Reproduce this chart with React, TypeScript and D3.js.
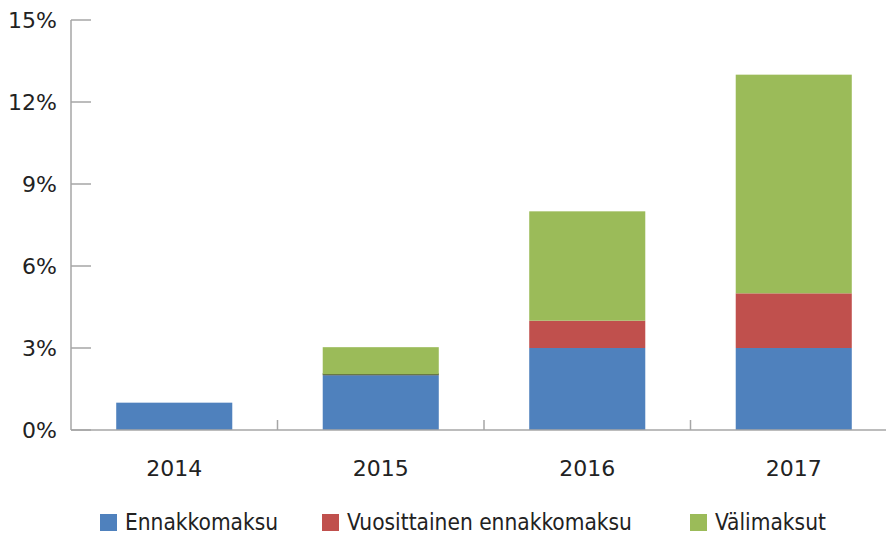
import React from "react";
import * as d3 from "d3";

const years = ["2014", "2015", "2016", "2017"];
const ennakkomaksu = [1, 2, 3, 3];
const vuosittainen = [0, 0.03, 1, 2];
const valimaksut = [0, 1, 4, 8];
const seriesNames = ["Ennakkomaksu", "Vuosittainen ennakkomaksu", "Välimaksut"];
const colors = ["#4F81BD", "#C0504D", "#9BBB59"];
const yTicks = [0, 3, 6, 9, 12, 15];

export default function App() {
  const W = 886, H = 535;
  const x0 = 71, plotTop = 20, plotBottom = 430;
  const x = d3.scaleBand<string>().domain(years).range([x0, x0 + 4 * 206.5]).paddingInner(0).paddingOuter(0);
  const y = d3.scaleLinear().domain([0, 15]).range([plotBottom, plotTop]);
  const table = years.map((yr, i) => ({ year: yr, s0: ennakkomaksu[i], s1: vuosittainen[i], s2: valimaksut[i] }));
  const stacked = d3.stack<any>().keys(["s0", "s1", "s2"])(table);
  const barW = x.bandwidth() * 0.562;
  const font = "'DejaVu Sans', sans-serif";
  const legendX = [100, 322, 690];
  return (
    <svg width={W} height={H} style={{ position: "absolute", left: 0, top: 0 }}>
      <rect width={W} height={H} fill="#fff" />
      {stacked.map((layer, si) =>
        layer.map((d, i) => {
          const v = d[1] - d[0];
          if (v <= 0) return null;
          const thin = v < 0.1;
          const yt = y(d[1]);
          const h = y(d[0]) - y(d[1]);
          const cx = x(years[i])! + x.bandwidth() / 2;
          return (
            <rect key={si + "-" + i} x={cx - barW / 2} y={thin ? y(d[0]) - 2 : yt} width={barW}
              height={thin ? 2 : h} fill={thin ? "#333" : colors[si]} />
          );
        })
      )}
      <line x1={x0} x2={W} y1={plotBottom} y2={plotBottom} stroke="#A6A6A6" strokeWidth={1.5} />
      <line x1={x0} x2={x0} y1={plotTop} y2={plotBottom} stroke="#A6A6A6" strokeWidth={1.5} />
      {yTicks.map((t) => (
        <g key={t}>
          <line x1={x0} x2={x0 + 20} y1={y(t)} y2={y(t)} stroke="#A6A6A6" strokeWidth={1.5} />
          <text x={57} y={y(t) + 8} textAnchor="end" fontFamily={font} fontSize={22} fill="#222">{t}%</text>
        </g>
      ))}
      {years.slice(1).map((yr) => (
        <line key={yr} x1={x(yr)!} x2={x(yr)!} y1={plotBottom} y2={plotBottom - 10} stroke="#A6A6A6" strokeWidth={1.5} />
      ))}
      {years.map((yr) => (
        <text key={yr} x={x(yr)! + x.bandwidth() / 2} y={476} textAnchor="middle" fontFamily={font} fontSize={22} fill="#222">{yr}</text>
      ))}
      {seriesNames.map((n, i) => (
        <g key={n}>
          <rect x={legendX[i]} y={514} width={17} height={17} fill={colors[i]} />
          <text x={legendX[i] + 25} y={530} fontFamily="'DejaVu Sans Condensed', 'DejaVu Sans', sans-serif" fontSize={22.5} fill="#222">{n}</text>
        </g>
      ))}
    </svg>
  );
}
